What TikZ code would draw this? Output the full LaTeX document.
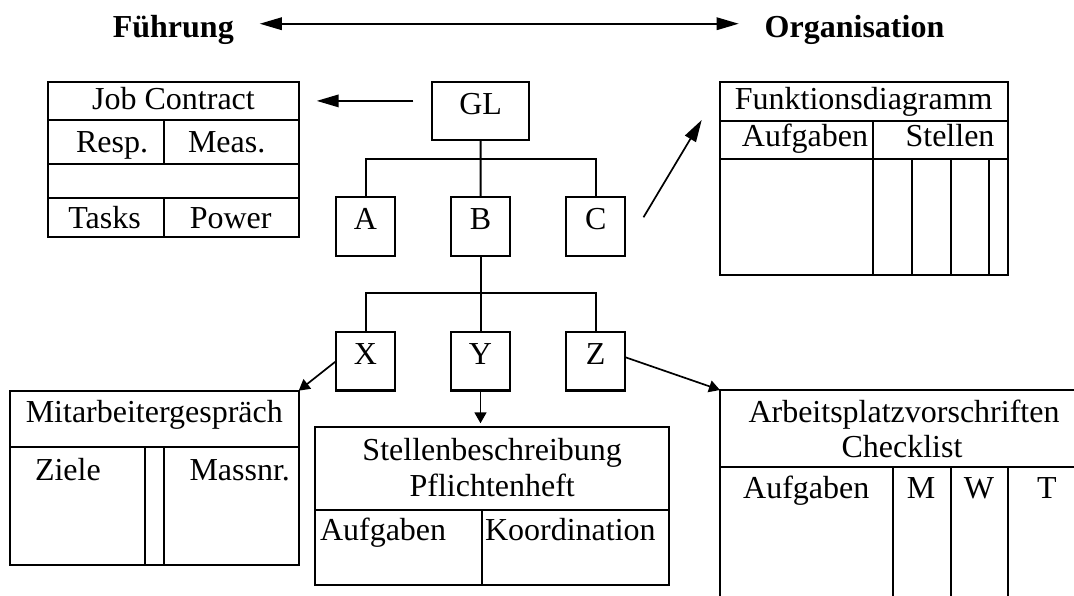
\documentclass[tikz,border=0pt]{standalone}
\usepackage{fontspec}
\setmainfont{Liberation Serif}
\usetikzlibrary{arrows.meta,calc}

\begin{document}
\begin{tikzpicture}[x=1pt,y=-1pt,
  font=\fontsize{32}{36}\selectfont,
  frame/.style={draw, line width=2.2pt, rectangle, inner sep=0pt, outer sep=0pt},
  unit/.style={frame, minimum width=59pt, minimum height=58.4pt,
               text height=22pt, text depth=15pt},
  rule/.style={line width=2.2pt},
  tree/.style={line width=2pt},
  bigarrow/.style={line width=1.7pt, -{Triangle[length=22pt,width=12.5pt]}},
  biarrow/.style={line width=1.7pt,
    {Triangle[length=22pt,width=12.5pt]}-{Triangle[length=22pt,width=12.5pt]}},
  smallarrow/.style={line width=1.7pt, -{Triangle[length=11pt,width=12pt]}},
  lbl/.style={inner sep=0pt, outer sep=0pt, anchor=base},
  headline/.style={lbl, font=\fontsize{32}{36}\selectfont\bfseries},
]
\useasboundingbox (0,0) rectangle (1074,596);

% headings
\node[headline] (fuehrung) at (173.3,37.3) {Führung};
\node[headline] (organisation) at (854.5,37.3) {Organisation};
\draw[biarrow] ([xshift=26pt,yshift=6pt]fuehrung.east) -- ([xshift=-26pt,yshift=6pt]organisation.west);

% organisation chart
\node[unit, minimum width=96.7pt] (GL) at (480.7,110.9) {GL};
\node[unit] (A) at (365.5,226.5) {A};
\node[unit] (B) at (480.5,226.5) {B};
\node[unit] (C) at (595.7,226.5) {C};
\node[unit] (X) at (365.5,361.2) {X};
\node[unit] (Y) at (480.5,361.2) {Y};
\node[unit] (Z) at (595.7,361.2) {Z};

\draw[tree] (GL.south) -- (B.north);
\draw[tree] (A.north) -- ++(0,-38.3) -| (C.north);
\draw[tree] (B.south) -- (Y.north);
\draw[tree] (X.north) -- ++(0,-39) -| (Z.north);

% Job Contract table
\node[frame, minimum width=250.4pt, minimum height=155pt] (jc) at (173.5,159.2) {};
\draw[rule] (48.3,120) -- (298.7,120)
            (48.3,164.3) -- (298.7,164.3)
            (48.3,197.7) -- (298.7,197.7)
            (164,120) -- (164,164.3)
            (164,197.7) -- (164,236.7);
\node[lbl] (jct) at (173.5,110) {Job Contract};
\node[lbl] (resp) at (112,152.7) {Resp.};
\node[lbl] (meas) at (226.7,152.7) {Meas.};
\node[lbl] (tasks) at (104.5,228.7) {Tasks};
\node[lbl] (power) at (230.7,228.7) {Power};

% Funktionsdiagramm table
\node[frame, minimum width=288.3pt, minimum height=193.3pt] (fd) at (864.15,178.35) {};
\draw[rule] (720,120.7) -- (1008.3,120.7)
            (720,159) -- (1008.3,159)
            (873.3,120.7) -- (873.3,275)
            (912,159) -- (912,275)
            (950.7,159) -- (950.7,275)
            (989.3,159) -- (989.3,275);
\node[lbl] (fdt) at (863.7,109.3) {Funktionsdiagramm};
\node[lbl] (fda) at (805,146.7) {Aufgaben};
\node[lbl] (fds) at (950,146.7) {Stellen};

% Mitarbeitergespraech table
\node[frame, minimum width=288.7pt, minimum height=174.3pt] (ma) at (154.35,477.85) {};
\draw[rule] (10,446.7) -- (298.7,446.7)
            (145,446.7) -- (145,565)
            (164,446.7) -- (164,565);
\node[lbl] (mat) at (154.3,422.7) {Mitarbeitergespräch};
\node[lbl, anchor=base west] (maz) at (35,480) {Ziele};
\node[lbl, anchor=base east] (mam) at (290,480) {Massnr.};

% Stellenbeschreibung table
\node[frame, minimum width=354.3pt, minimum height=158.3pt] (sb) at (492.15,505.85) {};
\draw[rule] (315,510) -- (669.3,510)
            (481.7,510) -- (481.7,585);
\node[lbl] (sbt1) at (492.2,460) {Stellenbeschreibung};
\node[lbl] (sbt2) at (492.2,496) {Pflichtenheft};
\node[lbl, anchor=base west] (sba) at (320,540.7) {Aufgaben};
\node[lbl, anchor=base west] (sbk) at (485,540.7) {Koordination};

% Arbeitsplatzvorschriften table (runs past the page edge)
\node[frame, minimum width=366pt, minimum height=240pt] (ap) at (903,510) {};
\draw[rule] (720,466.7) -- (1086,466.7)
            (892.7,466.7) -- (892.7,630)
            (950.7,466.7) -- (950.7,630)
            (1008,466.7) -- (1008,630);
\node[lbl] (apt1) at (904,422.7) {Arbeitsplatzvorschriften};
\node[lbl] (apt2) at (902,457.3) {Checklist};
\node[lbl] (apa) at (806.3,498.3) {Aufgaben};
\node[lbl] (apm) at (921.2,498.3) {M};
\node[lbl] (apw) at (979,498.3) {W};
\node[lbl] (apT) at (1047,498.3) {T};

% arrows from the chart to the documents
\draw[bigarrow] ($(GL.west)+(-19,-10)$) -- ($(GL.west -| jc.east)+(18,-10)$);
\draw[bigarrow] ($(C.east)+(18.3,-9.2)$) -- ($(fd.north west)+(-18.3,38.3)$);
\draw[smallarrow] (X.west) -- (ma.north east);
\draw[smallarrow] (Y.south) -- ($(Y.south |- sb.north)+(0,-3.4)$);
\draw[smallarrow] ($(Z.east)+(0,-4)$) -- (ap.north west);
\end{tikzpicture}
\end{document}
